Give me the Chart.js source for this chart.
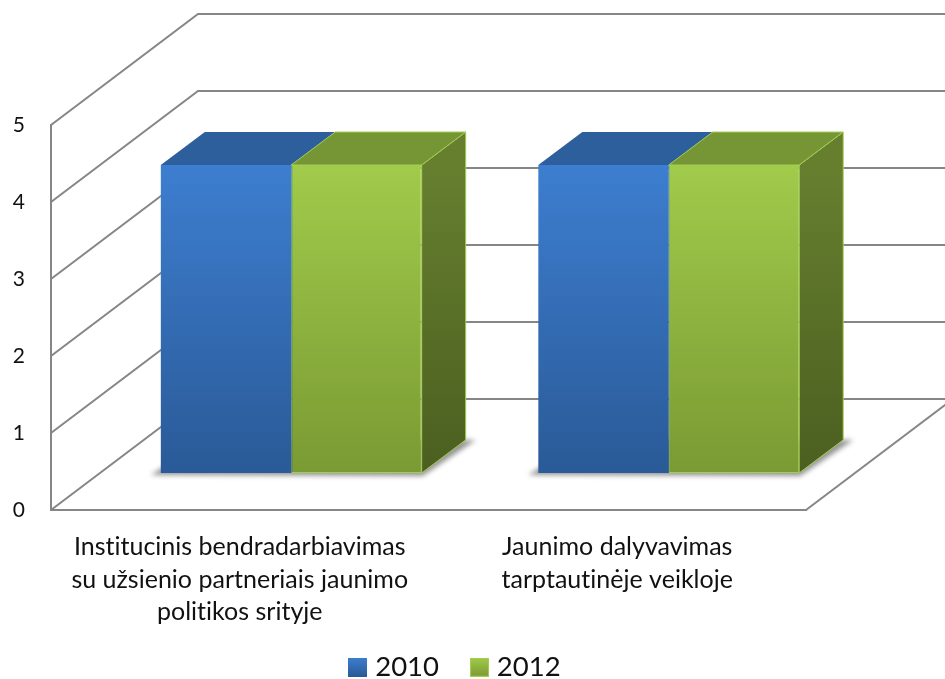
<!DOCTYPE html>
<html><head><meta charset="utf-8">
<style>html,body{margin:0;padding:0;background:#fff}#w{width:945px;height:679px;position:relative}</style>
<script src="https://cdn.jsdelivr.net/npm/chart.js@4"></script>
</head><body><div id="w"><canvas id="c"></canvas></div>
<script>
const categories = [
  ["Institucinis bendradarbiavimas","su užsienio partneriais jaunimo","politikos srityje"],
  ["Jaunimo dalyvavimas","tarptautinėje veikloje"]
];
const seriesNames = ["2010","2012"];
const values2010 = [4,4];
const values2012 = [4,4];
const yTicks = [0,1,2,3,4,5];

const FONT = "Lato, Carlito, sans-serif";
const WALL = {dx:147, dy:-111};
const BAR_SHIFT = {dx:51.5, dy:-37};
const BAR_DEPTH = {dx:44, dy:-33};
const GRID = "#868686";
const PAL = [
  {front:["#3d7ed0","#2a5a97"], top:"#2c5f9b", side:["#2c5f9b","#1f4575"], edge:null},
  {front:["#a1cb4b","#7a9a33"], top:"#769635", side:["#667f2f","#4b5f20"], edge:"#a3cc50"}
];

function vgrad(ctx,y0,y1,c){const g=ctx.createLinearGradient(0,y0,0,y1);g.addColorStop(0,c[0]);g.addColorStop(1,c[1]);return g;}
function poly(ctx,pts,fill,stroke){
  ctx.beginPath();pts.forEach((p,i)=>i?ctx.lineTo(p[0],p[1]):ctx.moveTo(p[0],p[1]));ctx.closePath();
  if(fill){ctx.fillStyle=fill;ctx.fill();}
  if(stroke){ctx.strokeStyle=stroke;ctx.lineWidth=1;ctx.stroke();}
}
function legendIcon(p){
  const s=19, cv=document.createElement('canvas');cv.width=s;cv.height=s;
  const x=cv.getContext('2d');x.fillStyle=vgrad(x,0,s,p.front);x.fillRect(0,0,s,s);
  if(p.edge){x.strokeStyle=p.edge;x.lineWidth=1;x.strokeRect(.5,.5,s-1,s-1);}
  return cv;
}
function barBox(el){
  const l=el.x-el.width/2+BAR_SHIFT.dx, r=el.x+el.width/2+BAR_SHIFT.dx;
  return {l,r,t:el.y+BAR_SHIFT.dy,b:el.base+BAR_SHIFT.dy};
}
const threeD = {
  id:'threeD',
  beforeDraw(chart){chart.ctx.letterSpacing='0.01px';},
  afterLayout(chart){
    const lg=chart.legend, h=lg.height, w=lg.right-lg.left;
    lg.top=616.5;lg.bottom=lg.top+h;
    lg.left=54.5;lg.right=lg.left+w;
    chart.scales.x.bottom=chart.height;
  },
  beforeDatasetsDraw(chart){
    const ctx=chart.ctx, y=chart.scales.y, a=chart.chartArea;
    ctx.save();
    ctx.strokeStyle=GRID;ctx.lineWidth=2;
    yTicks.forEach(v=>{
      const py=y.getPixelForValue(v);
      ctx.beginPath();
      ctx.moveTo(a.left,py);
      ctx.lineTo(a.left+WALL.dx,py+WALL.dy);
      ctx.lineTo(chart.width,py+WALL.dy);
      ctx.stroke();
    });
    const b0=y.getPixelForValue(0);
    ctx.beginPath();ctx.moveTo(a.right,b0);ctx.lineTo(a.right+WALL.dx,b0+WALL.dy);ctx.stroke();
    // soft floor shadow
    ctx.filter='blur(2.5px)';
    const m0=chart.getDatasetMeta(0), m1=chart.getDatasetMeta(1);
    m0.data.forEach((el,i)=>{
      const L=barBox(el), R=barBox(m1.data[i]);
      poly(ctx,[[L.l-10,L.b+2],[R.r+1,L.b+3],[R.r+BAR_DEPTH.dx+10,L.b+BAR_DEPTH.dy],[L.l+BAR_DEPTH.dx,L.b+BAR_DEPTH.dy]],"rgba(0,0,0,.42)");
    });
    ctx.filter='none';
    // side and top faces, first series under the second
    [0,1].forEach(k=>{
      const p=PAL[k];
      chart.getDatasetMeta(k).data.forEach(el=>{
        const B=barBox(el), d=BAR_DEPTH;
        poly(ctx,[[B.r,B.t],[B.r+d.dx,B.t+d.dy],[B.r+d.dx,B.b+d.dy],[B.r,B.b]],vgrad(ctx,B.t,B.b,p.side),p.edge);
        poly(ctx,[[B.l,B.t],[B.l+d.dx,B.t+d.dy],[B.r+d.dx,B.t+d.dy],[B.r,B.t]],p.top,p.edge);
      });
    });
    ctx.restore();
  },
  beforeDatasetDraw(chart){
    chart.ctx.save();
    chart.ctx.translate(BAR_SHIFT.dx,BAR_SHIFT.dy);
  },
  afterDatasetDraw(chart){chart.ctx.restore();}
};
function frontFill(i){
  return c=>{
    const ch=c.chart; if(!ch.chartArea) return PAL[i].front[0];
    return vgrad(ch.ctx,ch.scales.y.getPixelForValue(4),ch.scales.y.getPixelForValue(0),PAL[i].front);
  };
}
new Chart(document.getElementById('c'),{
  type:'bar',
  data:{labels:categories,datasets:[
    {label:seriesNames[0],data:values2010,backgroundColor:frontFill(0),borderWidth:0,clip:false},
    {label:seriesNames[1],data:values2012,backgroundColor:frontFill(1),borderColor:PAL[1].edge,borderWidth:1,borderSkipped:false,clip:false}
  ]},
  options:{
    responsive:true,maintainAspectRatio:false,animation:false,
    layout:{padding:{left:0,right:139,top:125,bottom:0}},
    datasets:{bar:{categoryPercentage:0.691,barPercentage:1}},
    plugins:{
      tooltip:{enabled:false},
      legend:{position:'bottom',
        labels:{font:{family:FONT,size:27.5},color:'#111',usePointStyle:true,pointStyleWidth:7,boxHeight:19,padding:37,
          generateLabels(ch){return ch.data.datasets.map((d,i)=>({text:d.label,datasetIndex:i,pointStyle:legendIcon(PAL[i]),fontColor:'#111',hidden:false,lineWidth:0}));}
        }}
    },
    scales:{
      x:{grid:{display:false,drawTicks:false},border:{display:true,color:GRID,width:2},
        ticks:{font:{family:FONT,size:25,lineHeight:1.3},color:'#111',padding:21,autoSkip:false,maxRotation:0,minRotation:0},
        afterFit(s){s.height=169-(s.chart.legend?s.chart.legend.height:0);}},
      y:{min:0,max:5,grid:{display:false,drawTicks:false},border:{display:true,color:GRID,width:2},
        afterBuildTicks(s){s.ticks=yTicks.map(v=>({value:v}));},
        ticks:{font:{family:FONT,size:21},color:'#111',padding:26},
        afterFit(s){s.width=51;}}
    }
  },
  plugins:[threeD]
});
</script></body></html>
